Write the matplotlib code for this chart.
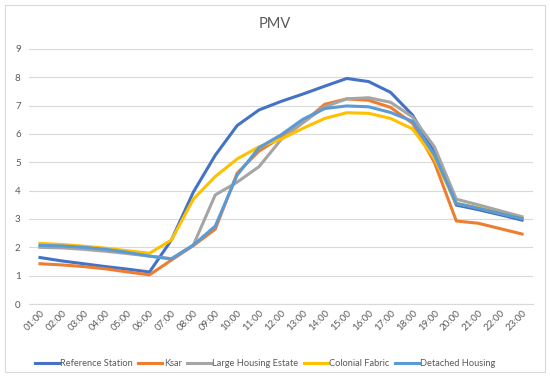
import matplotlib
matplotlib.use('Agg')
import matplotlib.pyplot as plt
from matplotlib.patches import Rectangle

plt.rcParams['font.family'] = ['Lato', 'DejaVu Sans']

hours = ['%02d:00' % h for h in range(1, 24)]

reference_station = [1.64, 1.52, 1.42, 1.32, 1.23, 1.13, 2.26, 3.95, 5.25, 6.3, 6.85,
                     7.15, 7.41, 7.69, 7.96, 7.85, 7.47, 6.67, 5.35, 3.49, 3.33, 3.15, 2.96]
ksar = [1.42, 1.38, 1.32, 1.24, 1.13, 1.03, 1.55, 2.06, 2.64, 4.62, 5.4,
        5.88, 6.4, 7.05, 7.24, 7.19, 6.94, 6.38, 5.0, 2.93, 2.85, 2.66, 2.47]
large_housing = [2.0, 1.98, 1.93, 1.86, 1.78, 1.69, 1.6, 2.08, 3.85, 4.3, 4.85,
                 5.8, 6.4, 6.96, 7.24, 7.28, 7.12, 6.6, 5.55, 3.7, 3.5, 3.29, 3.08]
colonial = [2.14, 2.1, 2.04, 1.97, 1.88, 1.79, 2.26, 3.7, 4.5, 5.12, 5.55,
            5.82, 6.2, 6.55, 6.75, 6.73, 6.55, 6.18, 5.14, 3.55, 3.4, 3.2, 3.03]
detached = [2.07, 2.05, 2.0, 1.93, 1.82, 1.69, 1.59, 2.08, 2.75, 4.55, 5.52,
            5.97, 6.52, 6.9, 6.99, 6.96, 6.76, 6.45, 5.26, 3.55, 3.38, 3.2, 3.02]

series = [
    ('Reference Station', reference_station, '#4472C4'),
    ('Ksar', ksar, '#ED7D31'),
    ('Large Housing Estate', large_housing, '#A5A5A5'),
    ('Colonial Fabric', colonial, '#FFC000'),
    ('Detached Housing', detached, '#5B9BD5'),
]

fig = plt.figure(figsize=(5.5, 3.78), dpi=100)
fig.patches.append(Rectangle((5 / 550, 6 / 378), 540 / 550, 367 / 378, transform=fig.transFigure,
                             fill=False, edgecolor='#D9D9D9', lw=0.8))
ax = fig.add_axes([29 / 550, 1 - 304 / 378, 504 / 550, 255 / 378])

x = range(len(hours))
for name, vals, col in series:
    ax.plot(x, vals, color=col, lw=2.2, label=name, solid_joinstyle='round')

ax.set_xlim(-0.5, len(hours) - 0.5)
ax.set_ylim(0, 9)
ax.set_yticks(range(10))
ax.set_xticks(list(x))
ax.set_xticklabels(hours, rotation=45, ha='right', rotation_mode='anchor')
ax.grid(axis='y', color='#D9D9D9', lw=0.8)
ax.set_axisbelow(True)
for s in ['top', 'right', 'left']:
    ax.spines[s].set_visible(False)
ax.spines['bottom'].set_color('#D9D9D9')
ax.tick_params(axis='both', length=0, labelsize=7, colors='#595959', pad=6)
ax.tick_params(axis='x', pad=3)

fig.text(0.5, 1 - 24 / 378, 'PMV', ha='center', va='center', fontsize=10.5, color='#595959')

fig.legend(loc='center', bbox_to_anchor=(0.482, 1 - 364 / 378), ncol=5, frameon=False,
           fontsize=6.7, labelcolor='#595959', handlelength=2.6, handletextpad=0.15,
           columnspacing=0.55)

fig.savefig('out.png', dpi=100)
